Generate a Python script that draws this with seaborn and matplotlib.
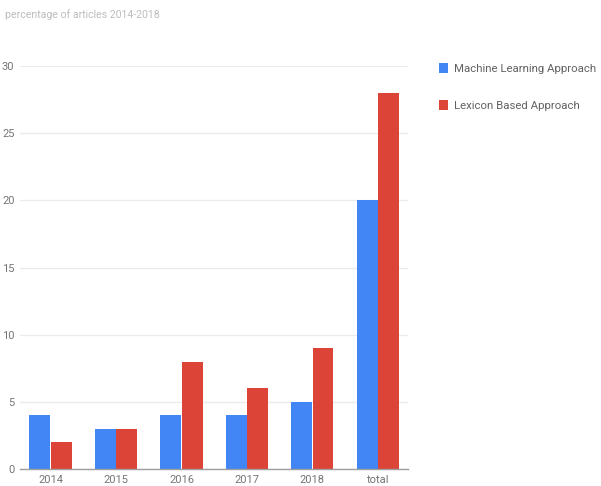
import matplotlib
matplotlib.use("Agg")
import matplotlib.pyplot as plt
import seaborn as sns
import pandas as pd

categories = ["2014", "2015", "2016", "2017", "2018", "total"]
ml_values = [4, 3, 4, 4, 5, 20]
lex_values = [2, 3, 8, 6, 9, 28]
series_names = ["Machine Learning Approach", "Lexicon Based Approach"]
yticks = [0, 5, 10, 15, 20, 25, 30]

df = pd.DataFrame({
    "year": categories * 2,
    "value": ml_values + lex_values,
    "series": [series_names[0]] * len(categories) + [series_names[1]] * len(categories),
})

sns.set_theme(style="white")
plt.rcParams["font.family"] = ["Roboto", "DejaVu Sans"]

fig = plt.figure(figsize=(6.01, 4.86), dpi=100)
ax = fig.add_axes([20 / 601, 1 - 469 / 486, (408 - 20) / 601, (469 - 66) / 486])

palette = {series_names[0]: "#4285F4", series_names[1]: "#DB4437"}
sns.barplot(data=df, x="year", y="value", hue="series", order=categories,
            hue_order=series_names, palette=palette, width=0.65, gap=0.02,
            saturation=1, linewidth=0, ax=ax, legend=True)

ax.set_ylim(0, 30)
ax.set_yticks(yticks)
ax.set_xlim(-0.466, 5.46)
ax.set_xlabel("")
ax.set_ylabel("")
for s in ["top", "right", "left"]:
    ax.spines[s].set_visible(False)
ax.spines["bottom"].set_color("#9E9E9E")
ax.spines["bottom"].set_linewidth(1)
ax.yaxis.grid(True, color="#EBEBEB", linewidth=1)
ax.set_axisbelow(True)
ax.tick_params(axis="both", length=0, labelsize=8, labelcolor="#757575", pad=4)

leg = ax.legend(loc="upper left", bbox_to_anchor=(439 / 601, 1 - 63 / 486),
                bbox_transform=fig.transFigure, frameon=False, fontsize=8.2,
                handlelength=0.75, handleheight=1.0, handletextpad=0.6,
                labelspacing=2.3, borderaxespad=0, borderpad=0)
for t in leg.get_texts():
    t.set_color("#616161")

fig.text(5 / 601, 1 - 15 / 486, "percentage of articles 2014-2018",
         fontsize=7.6, color="#BDBDBD", va="center", ha="left")

fig.savefig("out.png", dpi=100)
